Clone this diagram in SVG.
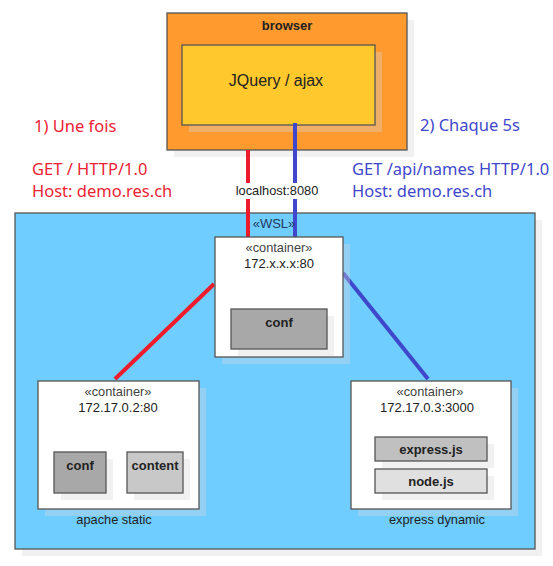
<svg xmlns="http://www.w3.org/2000/svg" width="553" height="566" viewBox="0 0 553 566">
<style>
.sh{fill:#d8d8d8;opacity:0.35}
.bx{stroke:#555;stroke-width:1.3}
.t{font-family:"Liberation Sans",Arial,sans-serif;fill:#222}
.st{font-family:"Liberation Sans",Arial,sans-serif;fill:#444;font-size:12.8px}
.ip{font-family:"Liberation Sans",Arial,sans-serif;fill:#222;font-size:13px}
.b{font-family:"Liberation Sans",Arial,sans-serif;font-weight:bold;fill:#222;font-size:13px}
.ann{font-family:"Noto Sans",sans-serif;font-size:16.5px}
.red{fill:#ee2233}
.blue{fill:#3f48cc}
.lr{stroke:#ee1c2b;stroke-width:4;fill:none}
.lb{stroke:#3f48cc;stroke-width:4;fill:none}
</style>
<rect width="553" height="566" fill="#fff"/>
<g id="browser">
<rect class="sh" x="174" y="20" width="240" height="137"/>
<rect class="bx" x="167" y="13" width="240" height="137" fill="#fe9a2e"/>
<text class="b" x="287" y="30" text-anchor="middle">browser</text>
</g>
<g id="jquery">
<rect class="sh" x="189" y="52" width="193" height="80"/>
<rect class="bx" x="182" y="45" width="193" height="80" fill="#ffc82c"/>
<text class="t" x="276" y="86" font-size="16" text-anchor="middle">JQuery / ajax</text>
</g>
<g id="wsl">
<rect class="sh" x="22" y="220" width="520" height="336"/>
<rect class="bx" x="15" y="213" width="520" height="336" fill="#6fcdff"/>
</g>
<g id="notes">
<text class="ann red" x="34" y="132">1) Une fois</text>
<text class="ann red" x="32" y="175">GET / HTTP/1.0</text>
<text class="ann red" x="32" y="197">Host: demo.res.ch</text>
<text class="ann blue" x="420" y="131">2) Chaque 5s</text>
<text class="ann blue" x="352" y="175">GET /api/names HTTP/1.0</text>
<text class="ann blue" x="352" y="197">Host: demo.res.ch</text>
</g>
<g id="connectors">
<line class="lr" x1="248" y1="150" x2="248" y2="237"/>
<line class="lb" x1="295" y1="123" x2="295" y2="237"/>
<line class="lr" x1="214" y1="284" x2="115" y2="379"/>
<line class="lb" x1="343" y1="273" x2="428" y2="379"/>
<rect x="233" y="183" width="90" height="16" fill="#fff"/>
<text class="t" x="277" y="195" font-size="12.8" text-anchor="middle">localhost:8080</text>
<text x="274" y="228" font-size="13" text-anchor="middle" font-family="Liberation Sans,Arial,sans-serif" fill="#1f3a5f">«WSL»</text>
</g>
<g id="proxy">
<rect class="sh" x="222" y="244" width="128" height="120"/>
<rect class="bx" x="215" y="237" width="128" height="120" fill="#fff"/>
<text class="st" x="279" y="252" text-anchor="middle">«container»</text>
<text class="ip" x="279" y="268" text-anchor="middle">172.x.x.x:80</text>
<rect class="sh" x="238" y="316" width="96" height="40"/>
<rect class="bx" x="231" y="309" width="96" height="40" fill="#a8a8a8"/>
<text class="b" x="279" y="327" font-size="13.5" text-anchor="middle">conf</text>
</g>
<g id="apache">
<rect class="sh" x="45" y="388" width="161" height="128"/>
<rect class="bx" x="38" y="381" width="161" height="128" fill="#fff"/>
<text class="st" x="118" y="396" text-anchor="middle">«container»</text>
<text class="ip" x="118" y="412" text-anchor="middle">172.17.0.2:80</text>
<rect class="sh" x="61" y="459" width="52" height="41"/>
<rect class="bx" x="54" y="452" width="52" height="41" fill="#a8a8a8"/>
<text class="b" x="80" y="470" text-anchor="middle">conf</text>
<rect class="sh" x="134" y="459" width="56" height="41"/>
<rect class="bx" x="127" y="452" width="56" height="41" fill="#c8c8c8"/>
<text class="b" x="155" y="470" text-anchor="middle">content</text>
<text class="t" x="114" y="524" font-size="12.8" text-anchor="middle">apache static</text>
</g>
<g id="express">
<rect class="sh" x="358" y="388" width="160" height="128"/>
<rect class="bx" x="351" y="381" width="160" height="128" fill="#fff"/>
<text class="st" x="430" y="396" text-anchor="middle">«container»</text>
<text class="ip" x="427" y="412" text-anchor="middle">172.17.0.3:3000</text>
<rect class="sh" x="382" y="444" width="112" height="24"/>
<rect class="bx" x="375" y="437" width="112" height="24" fill="#c0c0c0"/>
<text class="b" x="431" y="454" text-anchor="middle">express.js</text>
<rect class="sh" x="382" y="476" width="112" height="24"/>
<rect class="bx" x="375" y="469" width="112" height="24" fill="#e0e0e0"/>
<text class="b" x="431" y="486" text-anchor="middle">node.js</text>
<text class="t" x="437" y="524" font-size="12.8" text-anchor="middle">express dynamic</text>
</g>
</svg>
